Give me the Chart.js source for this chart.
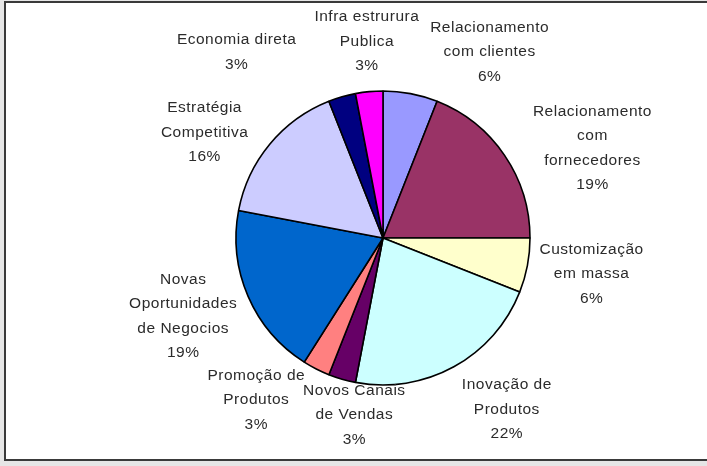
<!DOCTYPE html>
<html>
<head>
<meta charset="utf-8">
<script src="https://cdn.jsdelivr.net/npm/chart.js@4.4.1/dist/chart.umd.min.js"></script>
<style>
  html, body { margin: 0; padding: 0; background: #e6e6e6; }
  #wrap { width: 707px; height: 466px; position: relative; }
</style>
</head>
<body>
<div id="wrap"><canvas id="myChart" width="707" height="466"></canvas></div>
<script>
// slices, clockwise from 12 o'clock
const categories = [
    ['Relacionamento', 'com clientes'],
    ['Relacionamento', 'com', 'fornecedores'],
    ['Customização', 'em massa'],
    ['Inovação de', 'Produtos'],
    ['Novos Canais', 'de Vendas'],
    ['Promoção de', 'Produtos'],
    ['Novas', 'Oportunidades', 'de Negocios'],
    ['Estratégia', 'Competitiva'],
    ['Economia direta'],
    ['Infra estrurura', 'Publica']
];
const values = [6, 19, 6, 22, 3, 3, 19, 16, 3, 3];
const colors = ['#9999FF', '#993366', '#FFFFCC', '#CCFFFF', '#660066',
                '#FF8080', '#0066CC', '#CCCCFF', '#000080', '#FF00FF'];

// label placement: angle nudge (deg) and distance (x radius) per slice
const labelNudge = [19, 11, -1, -7, -7, 11, 2, -9, -22, 0.7];
const labelDist = [1.46, 1.55, 1.44, 1.44, 1.22, 1.40, 1.46, 1.41, 1.61, 1.34];

const frame = {
    id: 'frame',
    beforeDraw(chart) {
        const c = chart.ctx;
        c.save();
        c.fillStyle = '#fff';
        c.fillRect(5, 2, 710, 458);
        c.strokeStyle = '#3a3a3a';
        c.lineWidth = 2;
        c.strokeRect(5, 2, 710, 458);
        c.restore();
    }
};

const sliceLabels = {
    id: 'sliceLabels',
    afterDatasetsDraw(chart) {
        const c = chart.ctx;
        const total = values.reduce((a, b) => a + b, 0);
        c.save();
        c.font = '15.5px "Liberation Sans", Arial, sans-serif';
        c.letterSpacing = '0.5px';
        c.fillStyle = '#2b2b2b';
        c.textAlign = 'center';
        c.textBaseline = 'middle';
        chart.getDatasetMeta(0).data.forEach((arc, i) => {
            const p = arc.getProps(['x', 'y', 'startAngle', 'endAngle', 'outerRadius'], true);
            const a = (p.startAngle + p.endAngle) / 2 + labelNudge[i] * Math.PI / 180;
            const d = p.outerRadius * labelDist[i];
            const cx = p.x + Math.cos(a) * d;
            const cy = p.y + Math.sin(a) * d;
            const lines = categories[i].concat([Math.round(values[i] / total * 100) + '%']);
            const lh = 24.5;
            lines.forEach((t, k) => {
                c.fillText(t, cx, cy + (k - (lines.length - 1) / 2) * lh);
            });
        });
        c.restore();
    }
};

const ctx = document.getElementById('myChart').getContext('2d');
const myChart = new Chart(ctx, {
    type: 'pie',
    data: {
        labels: categories,
        datasets: [{
            data: values,
            backgroundColor: colors,
            borderColor: '#000',
            borderWidth: 1.6
        }]
    },
    options: {
        responsive: false,
        animation: false,
        radius: 147,
        layout: { padding: { top: 91, bottom: 81, left: 236, right: 177 } },
        plugins: {
            legend: { display: false },
            tooltip: { enabled: false }
        }
    },
    plugins: [frame, sliceLabels]
});
</script>
</body>
</html>
